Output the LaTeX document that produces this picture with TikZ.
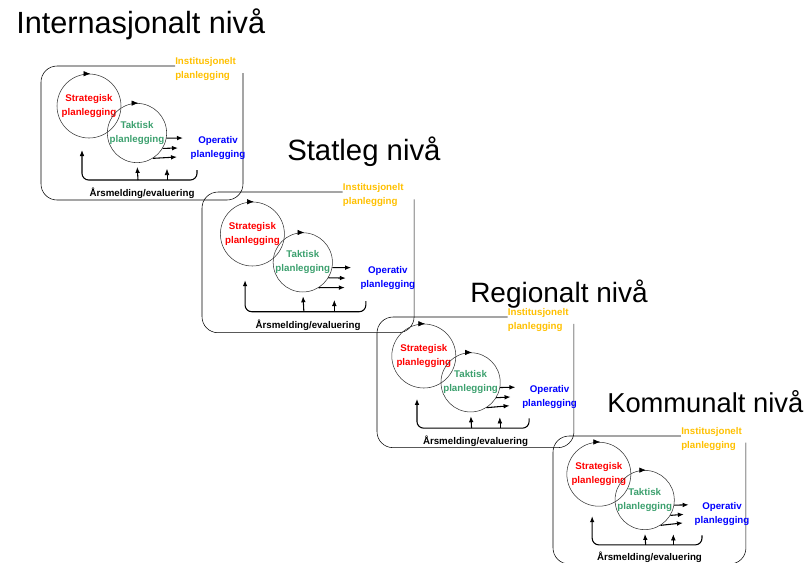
\documentclass[tikz,border=0pt]{standalone}
\usepackage{fontspec}
\setmainfont{Liberation Sans}
\usetikzlibrary{arrows.meta,positioning}
\definecolor{stratred}{RGB}{255,0,0}
\definecolor{taktgreen}{RGB}{60,160,110}
\definecolor{operblue}{RGB}{0,0,255}
\definecolor{instgold}{RGB}{255,192,0}
\newcommand{\plan}[1]{#1\\planlegging}

\begin{document}
\begin{tikzpicture}[
      x=0.75pt, y=-0.75pt,
      title/.style={anchor=base west,inner sep=0pt,font=\fontsize{#1}{#1}\selectfont},
      txt/.style={align=center,inner sep=0pt,font=\fontsize{7.3}{10.5}\selectfont\bfseries},
      ring/.style={txt,draw=black!80,thin,circle},
      flow/.style={thick,-{Latex[length=4.5pt,width=3.5pt]}},
      stage/.style={thin,rounded corners=12pt}
    ]
    \useasboundingbox (0,0) rectangle (812,562);
    % Draw the level titles.
    \node[title=23] (title1) at (16,33) {Internasjonalt nivå};
    \node[title=22] (title2) at (287,160) {Statleg nivå};
    \node[title=21] (title3) at (470,302) {Regionalt nivå};
    \node[title=20.5] (title4) at (607,412) {Kommunalt nivå};
    % Draw one planning block per level.
    \foreach \i/\bx/\by/\bs in {1/41/66/1, 2/202/192/1.05, 3/377/317/0.975, 4/553/436/0.955} {
      \begin{scope}[shift={(\bx,\by)},scale=\bs]
        \draw[stage] (134,0) -- (0,0) -- (0,134) -- (202,134) -- (202,7);
        \node[txt,text=instgold,align=left,anchor=west] (inst\i) at (134,3) {Institusjonelt\\planlegging};
        \node[ring,minimum size=48pt,text=stratred] (strat\i) at (48,40) {\plan{Strategisk}};
        \node[ring,minimum size=42pt,text=taktgreen] (takt\i) at (96,67) {\plan{Taktisk}};
        \node[txt,text=operblue] (oper\i) at (177,82) {\plan{Operativ}};
        \node[txt] (ars\i) at (101,127) {Årsmelding/evaluering};
        % arrows round the circles
        \draw[-{Latex[length=5pt,width=4pt]}] ([xshift=-3pt]strat\i.north) -- ([xshift=1pt]strat\i.north);
        \draw[-{Latex[length=5pt,width=4pt]}] ([xshift=-3pt]takt\i.north) -- ([xshift=1pt]takt\i.north);
        % out to the operative level
        \coordinate (o1\i) at (142,72);
        \coordinate (o2\i) at (137,82);
        \coordinate (o3\i) at (136,91);
        \draw[flow] (takt\i.-10) -- (o1\i);
        \draw[flow] (takt\i.-31) -- (o2\i);
        \draw[flow] (takt\i.-58) -- (o3\i);
        % feedback loop
        \coordinate (fbR\i) at (156,104);
        \coordinate (fbB\i) at (97,114);
        \coordinate (fbL\i) at (41,84);
        \coordinate (fbS\i) at (126,114);
        \coordinate (fbT\i) at (126,103);
        \draw[flow,rounded corners=5pt] (fbR\i) |- (fbB\i) -| (fbL\i);
        \draw[flow,shorten >=3pt] (fbB\i) -- (takt\i.south);
        \draw[flow,thin] (fbS\i) -- (fbT\i);
      \end{scope}
    }
    \end{tikzpicture}
\end{document}
